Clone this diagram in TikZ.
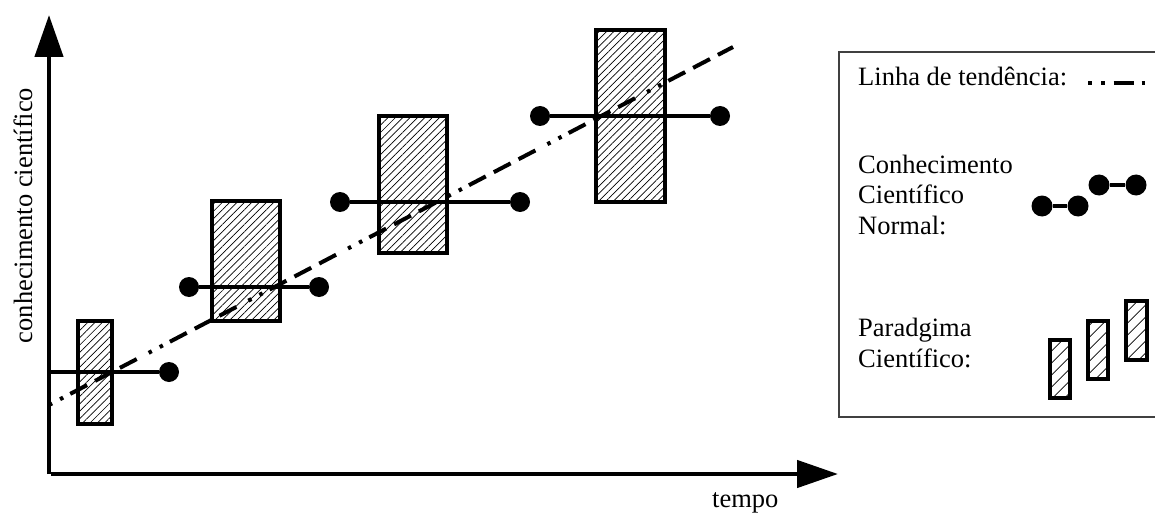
\documentclass[tikz,border=0pt]{standalone}
\usepackage{fontspec}
\setmainfont{Liberation Serif}
\usetikzlibrary{patterns.meta,arrows.meta}
\tikzset{
  paradigm/.style={line width=4pt, pattern={Lines[angle=45,distance=5.2pt,line width=0.7pt]}},
  legparadigm/.style={line width=4pt, pattern={Lines[angle=45,distance=8.5pt,line width=0.7pt]}},
  dot/.style={circle, fill=black, minimum size=20pt, inner sep=0pt},
  legdot/.style={circle, fill=black, minimum size=21pt, inner sep=0pt},
  normal/.style={line width=3.3pt},
  axis/.style={line width=4.5pt},
  trend/.style={line width=4pt, dash pattern=on 3.5pt off 9pt on 3.5pt off 8pt on 19pt off 9pt on 19pt off 9pt on 19pt off 13.5pt},
  lbl/.style={inner sep=0pt, font=\fontsize{26.5}{30.5}\selectfont, align=left},
}
\begin{document}
\begin{tikzpicture}[x=1pt,y=-1pt]
\clip (0,0) rectangle (1155,513);
\fill[white] (0,0) rectangle (1155,513);

% axes
\coordinate (yb) at (49,474);
\coordinate (yt) at (49,15);
\coordinate (xl) at (51,474);
\coordinate (xr) at (838,474);
\draw[axis, -{Triangle[length=42pt,width=28pt]}] (yb) -- (yt);
\draw[axis, -{Triangle[length=41pt,width=27pt]}] (xl) -- (xr);
\node[lbl, rotate=90, anchor=base] (ylab) at (32,215.5) {conhecimento científico};
\node[lbl, anchor=base west] (xlab) at (712,507) {tempo};

% paradigm boxes
\draw[paradigm] (78,321) rectangle (112,424);
\draw[paradigm] (212,201) rectangle (280,321);
\draw[paradigm] (379,116) rectangle (447,253);
\draw[paradigm] (596,30) rectangle (665,202);

% normal science segments
\coordinate (s1) at (49,372);
\node[dot] (d1) at (169,372) {};
\node[dot] (d2a) at (189,287) {};
\node[dot] (d2b) at (319,287) {};
\node[dot] (d3a) at (340,202) {};
\node[dot] (d3b) at (520,202) {};
\node[dot] (d4a) at (540,116) {};
\node[dot] (d4b) at (720,116) {};
\draw[normal] (s1) -- (d1);
\draw[normal] (d2a) -- (d2b);
\draw[normal] (d3a) -- (d3b);
\draw[normal] (d4a) -- (d4b);

% trend line
\coordinate (t0) at (49,405);
\coordinate (t1) at (733,47);
\draw[trend] (t0) -- (t1);

% legend
\draw[line width=1.3pt, black!75] (839,52) rectangle (1170,417);
\node[lbl, anchor=base west] (l1) at (858,86) {Linha de tendência:};
\coordinate (lt0) at (1088,83);
\coordinate (lt1) at (1150,83);
\draw[line width=4pt, dash pattern=on 3.5pt off 9.5pt on 3.5pt off 9pt on 20pt off 8pt] (lt0) -- (lt1);

\node[lbl, anchor=base west] (l2) at (858,234) {Conhecimento\\Científico\\Normal:};
\node[legdot] (e1) at (1042,206) {};
\node[legdot] (e2) at (1078,206) {};
\node[legdot] (e3) at (1099,185) {};
\node[legdot] (e4) at (1136,185) {};
\draw[normal] (e1) -- (e2);
\draw[normal] (e3) -- (e4);

\node[lbl, anchor=base west] (l3) at (858,367) {Paradgima\\Científico:};
\draw[legparadigm] (1050,340) rectangle (1070,398);
\draw[legparadigm] (1088,321) rectangle (1108,379);
\draw[legparadigm] (1126,301) rectangle (1147,360);
\end{tikzpicture}
\end{document}
